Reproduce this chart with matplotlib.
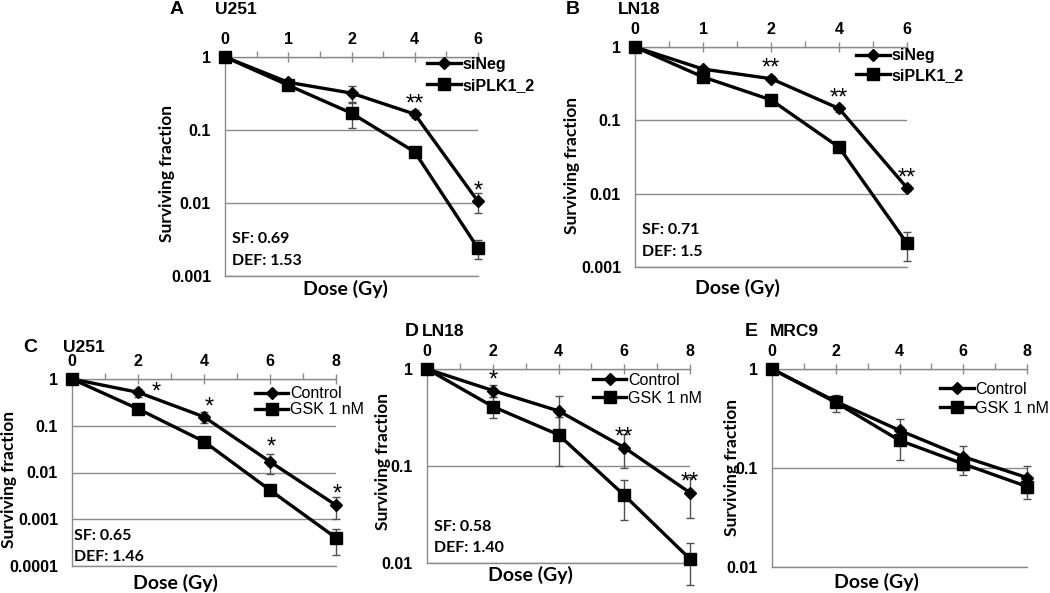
import matplotlib
matplotlib.use("Agg")
import matplotlib.pyplot as plt
import numpy as np
from matplotlib.ticker import NullLocator

W, H = 1050, 593

# ---- data ----
doses_ab = [0, 1, 2, 4, 6]
doses_cde = [0, 2, 4, 6, 8]

a_sineg = [1, 0.45, 0.32, 0.165, 0.0105]
a_sineg_err = [0, 0.03, 0.08, 0.02, 0.0032]
a_siplk = [1, 0.41, 0.17, 0.05, 0.0024]
a_siplk_err = [0, 0.03, 0.065, 0.005, 0.0007]
a_stars = ["", "", "", "**", "*"]

b_sineg = [1, 0.5, 0.37, 0.145, 0.012]
b_sineg_err = [0, 0.04, 0.03, 0.015, 0.001]
b_siplk = [1, 0.39, 0.19, 0.043, 0.0021]
b_siplk_err = [0, 0.03, 0.03, 0.004, 0.0009]
b_stars = ["", "", "**", "**", "**"]

c_ctrl = [1, 0.52, 0.155, 0.017, 0.002]
c_ctrl_err = [0, 0.1, 0.04, 0.0075, 0.001]
c_gsk = [1, 0.23, 0.046, 0.0042, 0.0004]
c_gsk_err = [0, 0.02, 0.004, 0.0004, 0.00023]
c_stars = ["", "*", "*", "*", "*"]

d_ctrl = [1, 0.6, 0.37, 0.155, 0.053]
d_ctrl_err = [0, 0.08, 0.16, 0.06, 0.024]
d_gsk = [1, 0.41, 0.21, 0.05, 0.011]
d_gsk_err = [0, 0.1, 0.11, 0.022, 0.005]
d_stars = ["", "*", "", "**", "**"]

e_ctrl = [1, 0.47, 0.24, 0.13, 0.08]
e_ctrl_err = [0, 0.06, 0.07, 0.035, 0.024]
e_gsk = [1, 0.46, 0.19, 0.11, 0.065]
e_gsk_err = [0, 0.09, 0.07, 0.025, 0.016]
e_stars = ["", "", "", "", ""]

si_names = ["siNeg", "siPLK1_2"]
gsk_names = ["Control", "GSK 1 nM"]

yt_3 = [1, 0.1, 0.01, 0.001]
yt_4 = [1, 0.1, 0.01, 0.001, 0.0001]
yt_2 = [1, 0.1, 0.01]
ylab_3 = ["1", "0.1", "0.01", "0.001"]
ylab_4 = ["1", "0.1", "0.01", "0.001", "0.0001"]
ylab_2 = ["1", "0.1", "0.01"]

GRAY = "#8a8a8a"
plt.rcParams["font.family"] = ["Liberation Sans", "DejaVu Sans"]
CAL = ["Lato", "DejaVu Sans"]


def rect(x0, y0, x1, y1):
    return [x0 / W, 1 - y1 / H, (x1 - x0) / W, (y1 - y0) / H]


def ftext(fig, x, y, s, **kw):
    fig.text(x / W, 1 - y / H, s, **kw)


def draw(ax, doses, ctrl, ctrl_err, trt, trt_err, names, yticks, ylabels,
         stars, leg_xy, leg_sp, leg_bold, star_off=None):
    x = np.arange(len(doses))
    ax.set_yscale("log")
    for y, e, mk, ms, name in [(ctrl, ctrl_err, "D", 6.5, names[0]),
                               (trt, trt_err, "s", 9, names[1])]:
        ax.errorbar(x, y, yerr=e, fmt="none", ecolor="#505050", elinewidth=1,
                    capsize=3, capthick=1, zorder=3, clip_on=False)
        ax.plot(x, y, color="black", lw=2.4, marker=mk, ms=ms, label=name,
                zorder=4, clip_on=False)
    if star_off is None:
        star_off = [(0, 7)] * len(x)
    for xi, yi, s, off in zip(x, ctrl, stars, star_off):
        if s:
            ax.annotate(s, (xi, yi), xytext=off, textcoords="offset points",
                        ha="center", va="center", fontsize=17)

    ax.set_xlim(0, len(doses) - 1)
    ax.set_ylim(yticks[-1], yticks[0])
    ax.set_yticks(yticks)
    ax.set_yticklabels(ylabels, fontweight="bold")
    ax.yaxis.set_minor_locator(NullLocator())
    ax.tick_params(axis="y", length=0, pad=10, labelsize=11.5)

    ax.xaxis.tick_top()
    ax.set_xticks(x)
    ax.set_xticklabels([str(d) for d in doses], fontweight="bold")
    ax.set_xticks(x[:-1] + 0.5, minor=True)
    ax.tick_params(axis="x", which="major", direction="inout", length=7,
                   width=1, color=GRAY, pad=4, labelsize=11.5)
    ax.tick_params(axis="x", which="minor", direction="out", length=4,
                   width=1, color=GRAY)

    ax.grid(axis="y", color=GRAY, lw=1)
    ax.set_axisbelow(True)
    ax.spines["right"].set_visible(False)
    for sp in ["left", "top", "bottom"]:
        ax.spines[sp].set_color(GRAY)
        ax.spines[sp].set_linewidth(1)

    ax.legend(loc="upper left", bbox_to_anchor=leg_xy, frameon=False,
              handlelength=2.1, handletextpad=0.1, labelspacing=leg_sp,
              borderpad=0, borderaxespad=0, numpoints=1,
              prop={"size": 11.5, "weight": "bold" if leg_bold else "normal"})


fig = plt.figure(figsize=(W / 100, H / 100), dpi=100)

# A
axA = fig.add_axes(rect(225, 57, 478, 276))
draw(axA, doses_ab, a_sineg, a_sineg_err, a_siplk, a_siplk_err, si_names,
     yt_3, ylab_3, a_stars, (0.80, 1.0), 0.35, True)
# B
axB = fig.add_axes(rect(635, 47, 907, 267))
draw(axB, doses_ab, b_sineg, b_sineg_err, b_siplk, b_siplk_err, si_names,
     yt_3, ylab_3, b_stars, (0.8125, 0.995), 0.3, True)
# C
axC = fig.add_axes(rect(72, 379, 336, 566))
draw(axC, doses_cde, c_ctrl, c_ctrl_err, c_gsk, c_gsk_err, gsk_names,
     yt_4, ylab_4, c_stars, (0.693, 0.96), 0.05, False,
     star_off=[(0, 7), (13, 0), (4, 7), (1, 10), (1, 8)])
# D
axD = fig.add_axes(rect(427, 369, 690, 563))
draw(axD, doses_cde, d_ctrl, d_ctrl_err, d_gsk, d_gsk_err, gsk_names,
     yt_2, ylab_2, d_stars, (0.631, 0.98), 0.2, False)
# E
axE = fig.add_axes(rect(772, 369, 1027, 567))
draw(axE, doses_cde, e_ctrl, e_ctrl_err, e_gsk, e_gsk_err, gsk_names,
     yt_2, ylab_2, e_stars, (0.659, 0.935), 0.25, False)

# panel letters and cell lines
for letter, lx, cell, cx, cy in [("A", 170, "U251", 215, 9),
                                 ("B", 566, "LN18", 618, 9),
                                 ("C", 23, "U251", 63, 348),
                                 ("D", 405, "LN18", 422, 331),
                                 ("E", 745, "MRC9", 770, 331)]:
    ftext(fig, lx, cy, letter, fontsize=14, fontweight="bold", va="center")
    ftext(fig, cx, cy, cell, fontsize=12.5, fontweight="bold", va="center")

# axis labels
for x, y in [(167, 173), (572, 165), (9, 479), (383, 461), (732, 468)]:
    ftext(fig, x, y, "Surviving fraction", rotation=90, ha="center",
          va="center", fontsize=12.5, fontweight="bold", family=CAL)
for x, y in [(345, 289), (737, 288), (175, 583), (530, 575), (876, 582)]:
    ftext(fig, x, y, "Dose (Gy)", ha="center", va="center", fontsize=14,
          fontweight="bold", family=CAL)

# SF / DEF annotations
for x, y1, y2, sf, de in [(232, 239, 261, "SF: 0.69", "DEF: 1.53"),
                          (642, 230, 252, "SF: 0.71", "DEF: 1.5"),
                          (74, 536, 557, "SF: 0.65", "DEF: 1.46"),
                          (434, 527, 548, "SF: 0.58", "DEF: 1.40")]:
    ftext(fig, x, y1, sf, va="center", fontsize=11.5, fontweight="bold", family=CAL)
    ftext(fig, x, y2, de, va="center", fontsize=11.5, fontweight="bold", family=CAL)

fig.savefig("out.png", dpi=100)
